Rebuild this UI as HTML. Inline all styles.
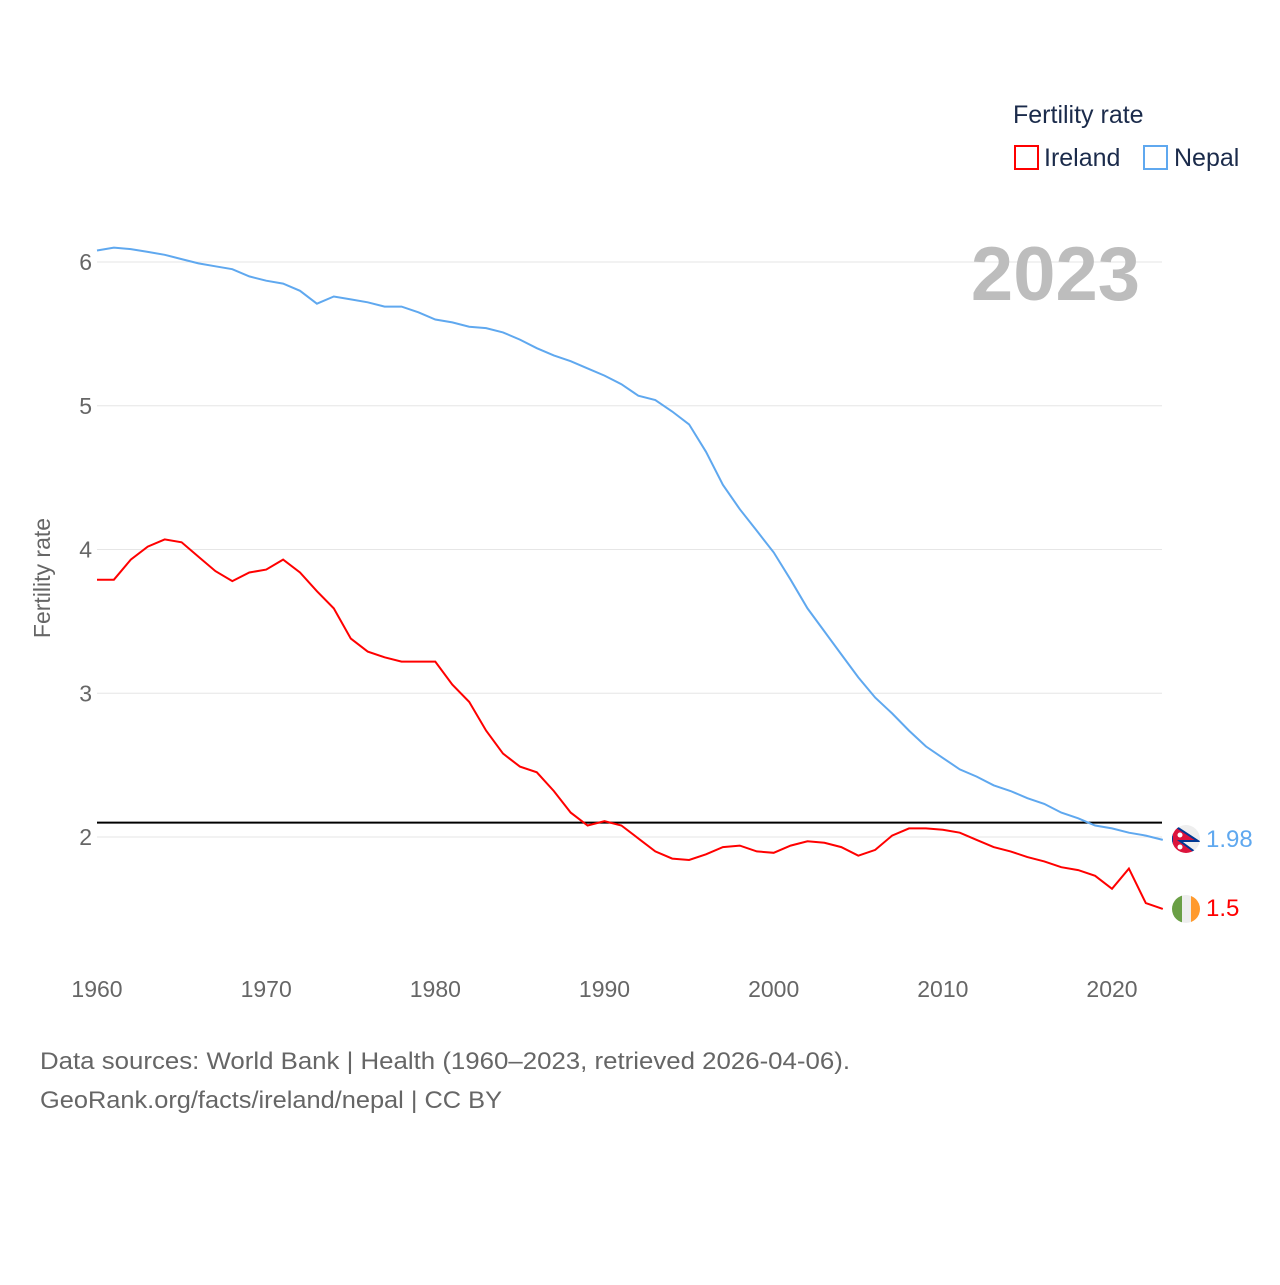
<!DOCTYPE html>
<html><head><meta charset="utf-8"><style>
body{margin:0;background:#fff;font-family:"Liberation Sans",sans-serif}
svg text{font-family:"Liberation Sans",sans-serif}
</style></head><body>
<svg id="chart" width="1280" height="1280" xmlns="http://www.w3.org/2000/svg">
<defs>
<clipPath id="cN"><circle cx="1186" cy="839" r="14"/></clipPath>
<clipPath id="cI"><circle cx="1186" cy="909" r="14"/></clipPath>
</defs>
<g id="grid"></g>
<g id="xt"></g>
<text transform="translate(50,578) rotate(-90)" text-anchor="middle" font-size="23" fill="#666">Fertility rate</text>
<text x="1140" y="300" text-anchor="end" font-size="76" font-weight="bold" fill="#bdbdbd">2023</text>
<line x1="97" x2="1162" y1="822.6" y2="822.6" stroke="#000" stroke-width="2"/>
<path id="pN" fill="none" stroke="#5fa8ef" stroke-width="2"/>
<path id="pI" fill="none" stroke="#f00" stroke-width="2"/>
<g clip-path="url(#cN)">
<rect x="1172" y="825" width="28" height="28" fill="#eee"/>
<polygon points="1172,824 1198,841 1180,841 1199,855 1172,855" fill="#dc143c" stroke="#003893" stroke-width="2"/>
<circle cx="1180" cy="835" r="2.5" fill="#fff"/><circle cx="1180" cy="847" r="2.5" fill="#fff"/>
</g>
<g clip-path="url(#cI)">
<rect x="1172" y="895" width="10" height="28" fill="#6a9f45"/>
<rect x="1182" y="895" width="9" height="28" fill="#eee"/>
<rect x="1191" y="895" width="10" height="28" fill="#ff9a2e"/>
</g>
<text id="lN" x="1206" y="847" font-size="24" fill="#5fa8ef">1.98</text>
<text id="lI" x="1206" y="916" font-size="24" fill="#f00">1.5</text>
<text x="1013" y="123" font-size="25" fill="#1b2b4b">Fertility rate</text>
<g><rect x="1015" y="146" width="23" height="23" fill="none" stroke="#f00" stroke-width="2"/><text x="1044" y="166" font-size="25" fill="#1b2b4b">Ireland</text></g>
<g><rect x="1144" y="146" width="23" height="23" fill="none" stroke="#5fa8ef" stroke-width="2"/><text x="1174" y="166" font-size="25" fill="#1b2b4b">Nepal</text></g>
<text x="40" y="1069" font-size="24" fill="#666" textLength="810" lengthAdjust="spacingAndGlyphs">Data sources: World Bank | Health (1960–2023, retrieved 2026-04-06).</text>
<text x="40" y="1108" font-size="24" fill="#666" textLength="462" lengthAdjust="spacingAndGlyphs">GeoRank.org/facts/ireland/nepal | CC BY</text>
</svg>
<script>
const years=[];for(let y=1960;y<=2023;y++)years.push(y);
const ireland=[3.79,3.79,3.93,4.02,4.07,4.05,3.95,3.85,3.78,3.84,3.86,3.93,3.84,3.71,3.59,3.38,3.29,3.25,3.22,3.22,3.22,3.06,2.94,2.74,2.58,2.49,2.45,2.32,2.17,2.08,2.11,2.08,1.99,1.90,1.85,1.84,1.88,1.93,1.94,1.90,1.89,1.94,1.97,1.96,1.93,1.87,1.91,2.01,2.06,2.06,2.05,2.03,1.98,1.93,1.90,1.86,1.83,1.79,1.77,1.73,1.64,1.78,1.54,1.50];
const nepal=[6.08,6.10,6.09,6.07,6.05,6.02,5.99,5.97,5.95,5.90,5.87,5.85,5.80,5.71,5.76,5.74,5.72,5.69,5.69,5.65,5.60,5.58,5.55,5.54,5.51,5.46,5.40,5.35,5.31,5.26,5.21,5.15,5.07,5.04,4.96,4.87,4.68,4.45,4.28,4.13,3.98,3.79,3.59,3.43,3.27,3.11,2.97,2.86,2.74,2.63,2.55,2.47,2.42,2.36,2.32,2.27,2.23,2.17,2.13,2.08,2.06,2.03,2.01,1.98];
const yTicks=[2,3,4,5,6];
const xTicks=[1960,1970,1980,1990,2000,2010,2020];
const X=y=>97+(y-1960)*1015/60;
const Y=v=>837-(v-2)*143.75;
const NS="http://www.w3.org/2000/svg";
const grid=document.getElementById('grid'),xt=document.getElementById('xt');
yTicks.forEach(t=>{
 const l=document.createElementNS(NS,'line');
 
 
 l.setAttribute('x1',97);l.setAttribute('x2',1162);l.setAttribute('y1',Y(t));l.setAttribute('y2',Y(t));l.setAttribute('stroke','#e6e6e6');
 grid.appendChild(l);
 const tx=document.createElementNS(NS,'text');
 
 
 tx.setAttribute('x',92);tx.setAttribute('y',Y(t)+8);tx.setAttribute('text-anchor','end');tx.setAttribute('font-size','23');tx.setAttribute('fill','#666');tx.textContent=t;
 grid.appendChild(tx);
});
xTicks.forEach(t=>{
 const tx=document.createElementNS(NS,'text');
 
 
 tx.setAttribute('x',X(t));tx.setAttribute('y',997);tx.setAttribute('text-anchor','middle');tx.setAttribute('font-size','23');tx.setAttribute('fill','#666');tx.textContent=t;
 xt.appendChild(tx);
});
const path=a=>a.map((v,i)=>(i?'L':'M')+X(years[i]).toFixed(1)+','+Y(v).toFixed(1)).join('');
document.getElementById('pI').setAttribute('d',path(ireland));
document.getElementById('pN').setAttribute('d',path(nepal));
</script>
</body></html>
